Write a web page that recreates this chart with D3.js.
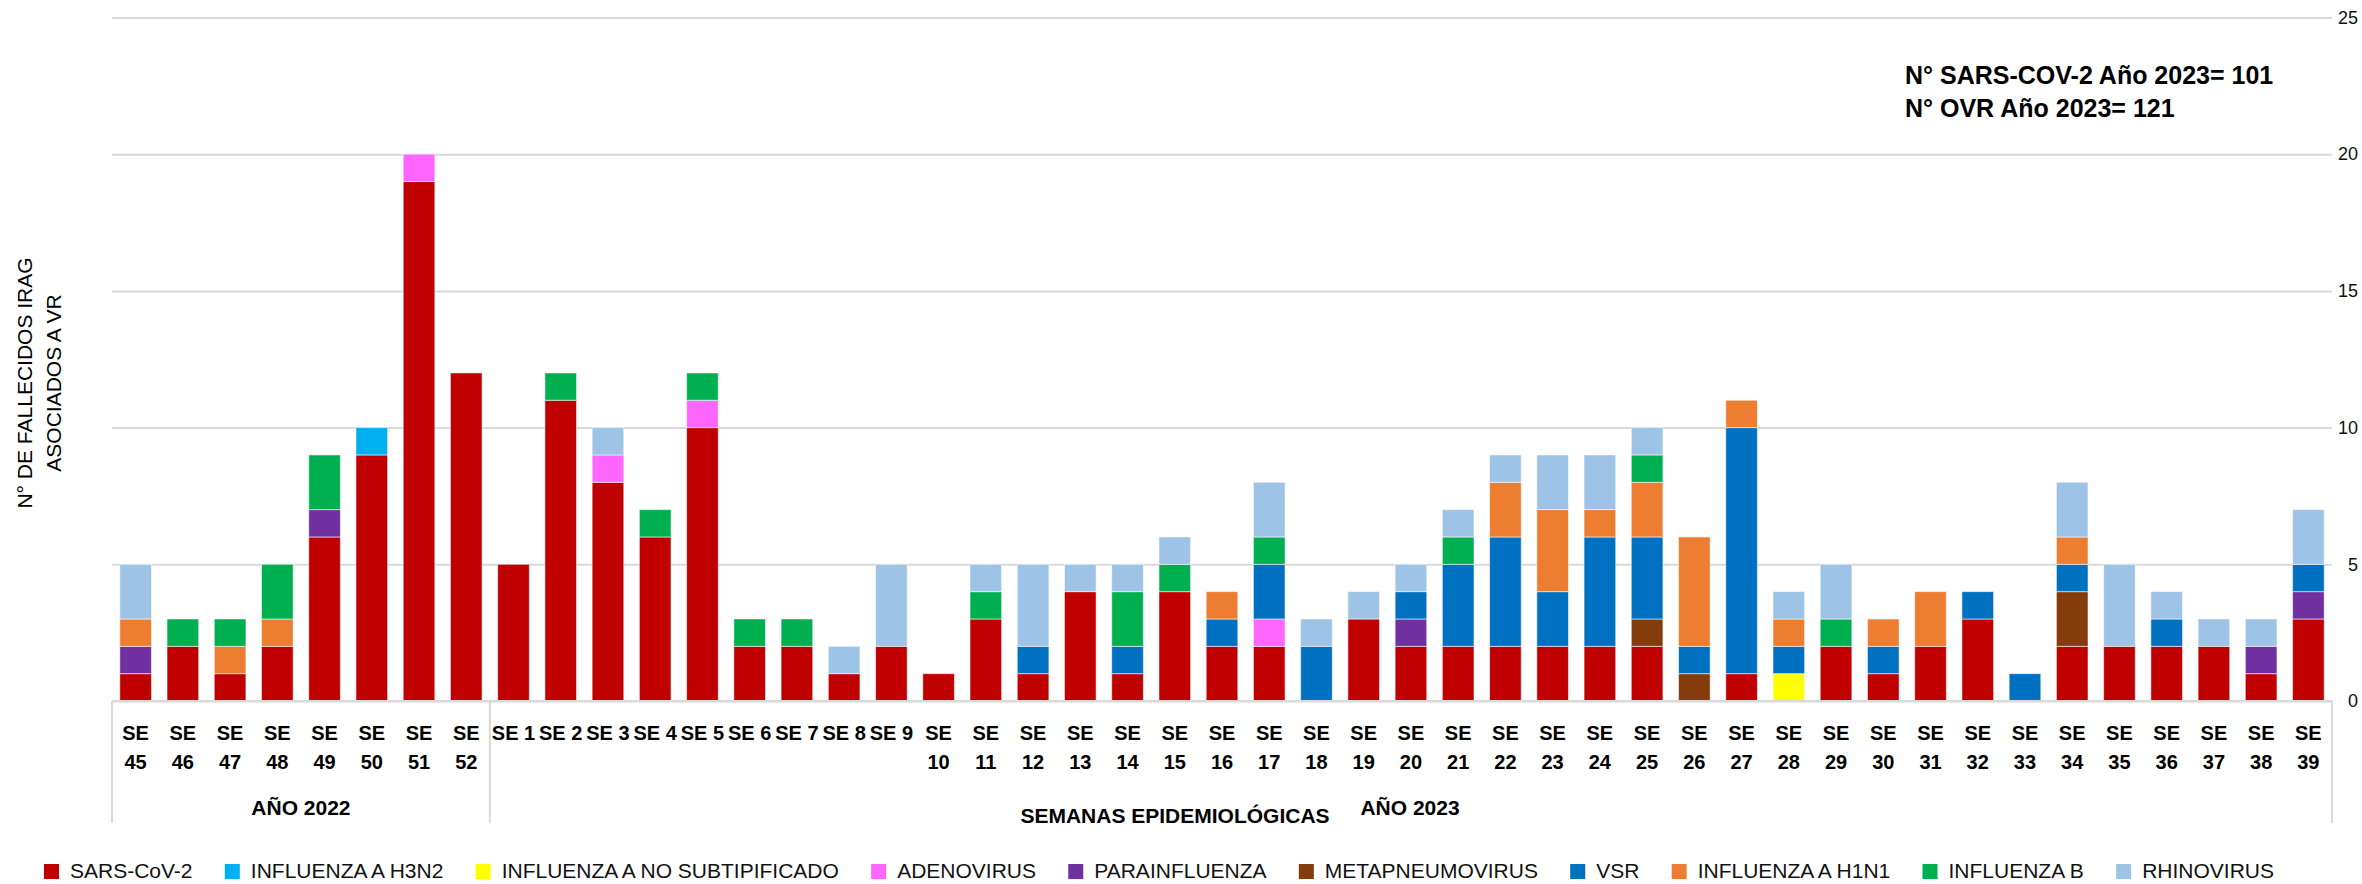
<!DOCTYPE html>
<html>
<head>
<meta charset="utf-8">
<script src="https://cdn.jsdelivr.net/npm/d3@7"></script>
<style>
    body { margin: 0; background: #fff; }
    text { font-family: "Liberation Sans", Arial, sans-serif; }
</style>
</head>
<body>
<div id="irag_plot"></div>
<script>
    // semanas epidemiologicas: SE 45-52 (2022) y SE 1-39 (2023)
    const weeks = [45, 46, 47, 48, 49, 50, 51, 52,
        1, 2, 3, 4, 5, 6, 7, 8, 9, 10, 11, 12, 13, 14, 15, 16, 17, 18, 19, 20,
        21, 22, 23, 24, 25, 26, 27, 28, 29, 30, 31, 32, 33, 34, 35, 36, 37, 38, 39];
    const years = ["2022", "2022", "2022", "2022", "2022", "2022", "2022", "2022"].concat(d3.range(39).map(() => "2023"));

    const sarsCov2 = [1, 2, 1, 2, 6, 9, 19, 12,
        5, 11, 8, 6, 10, 2, 2, 1, 2, 1,
        3, 1, 4, 1, 4, 2, 2, 0, 3, 2,
        2, 2, 2, 2, 2, 0, 1, 0, 2, 1,
        2, 3, 0, 2, 2, 2, 2, 1, 3];
    const influenzaH3N2 = [0, 0, 0, 0, 0, 1, 0, 0,
        0, 0, 0, 0, 0, 0, 0, 0, 0, 0,
        0, 0, 0, 0, 0, 0, 0, 0, 0, 0,
        0, 0, 0, 0, 0, 0, 0, 0, 0, 0,
        0, 0, 0, 0, 0, 0, 0, 0, 0];
    const influenzaNoSubt = [0, 0, 0, 0, 0, 0, 0, 0,
        0, 0, 0, 0, 0, 0, 0, 0, 0, 0,
        0, 0, 0, 0, 0, 0, 0, 0, 0, 0,
        0, 0, 0, 0, 0, 0, 0, 1, 0, 0,
        0, 0, 0, 0, 0, 0, 0, 0, 0];
    const adenovirus = [0, 0, 0, 0, 0, 0, 1, 0,
        0, 0, 1, 0, 1, 0, 0, 0, 0, 0,
        0, 0, 0, 0, 0, 0, 1, 0, 0, 0,
        0, 0, 0, 0, 0, 0, 0, 0, 0, 0,
        0, 0, 0, 0, 0, 0, 0, 0, 0];
    const parainfluenza = [1, 0, 0, 0, 1, 0, 0, 0,
        0, 0, 0, 0, 0, 0, 0, 0, 0, 0,
        0, 0, 0, 0, 0, 0, 0, 0, 0, 1,
        0, 0, 0, 0, 0, 0, 0, 0, 0, 0,
        0, 0, 0, 0, 0, 0, 0, 1, 1];
    const metapneumovirus = [0, 0, 0, 0, 0, 0, 0, 0,
        0, 0, 0, 0, 0, 0, 0, 0, 0, 0,
        0, 0, 0, 0, 0, 0, 0, 0, 0, 0,
        0, 0, 0, 0, 1, 1, 0, 0, 0, 0,
        0, 0, 0, 2, 0, 0, 0, 0, 0];
    const vsr = [0, 0, 0, 0, 0, 0, 0, 0,
        0, 0, 0, 0, 0, 0, 0, 0, 0, 0,
        0, 1, 0, 1, 0, 1, 2, 2, 0, 1,
        3, 4, 2, 4, 3, 1, 9, 1, 0, 1,
        0, 1, 1, 1, 0, 1, 0, 0, 1];
    const influenzaH1N1 = [1, 0, 1, 1, 0, 0, 0, 0,
        0, 0, 0, 0, 0, 0, 0, 0, 0, 0,
        0, 0, 0, 0, 0, 1, 0, 0, 0, 0,
        0, 2, 3, 1, 2, 4, 1, 1, 0, 1,
        2, 0, 0, 1, 0, 0, 0, 0, 0];
    const influenzaB = [0, 1, 1, 2, 2, 0, 0, 0,
        0, 1, 0, 1, 1, 1, 1, 0, 0, 0,
        1, 0, 0, 2, 1, 0, 1, 0, 0, 0,
        1, 0, 0, 0, 1, 0, 0, 0, 1, 0,
        0, 0, 0, 0, 0, 0, 0, 0, 0];
    const rhinovirus = [2, 0, 0, 0, 0, 0, 0, 0,
        0, 0, 1, 0, 0, 0, 0, 1, 3, 0,
        1, 3, 1, 1, 1, 0, 2, 1, 1, 1,
        1, 1, 2, 2, 1, 0, 0, 1, 2, 0,
        0, 0, 0, 2, 3, 1, 1, 1, 2];

    const seriesNames = ["SARS-CoV-2", "INFLUENZA A H3N2", "INFLUENZA A NO SUBTIPIFICADO", "ADENOVIRUS",
        "PARAINFLUENZA", "METAPNEUMOVIRUS", "VSR", "INFLUENZA A H1N1", "INFLUENZA B", "RHINOVIRUS"];
    const seriesValues = [sarsCov2, influenzaH3N2, influenzaNoSubt, adenovirus, parainfluenza,
        metapneumovirus, vsr, influenzaH1N1, influenzaB, rhinovirus];
    const seriesColors = ["#C00000", "#00B0F0", "#FFFF00", "#FF66FF", "#7030A0",
        "#843C0C", "#0070C0", "#ED7D31", "#00B050", "#9DC3E6"];
    const yTicks = [0, 5, 10, 15, 20, 25];
    const notes = ["N° SARS-COV-2 Año 2023= 101", "N° OVR Año 2023= 121"];

    function plot_irag() {
        const W = 2362, H = 884;
        const left = 112, right = 2332, top = 17.5, bottom = 701;

        const svg = d3.select("#irag_plot")
            .append("svg")
            .attr("width", W)
            .attr("height", H);

        const categories = weeks.map((w, i) => years[i] + "-" + w);
        const table = categories.map((c, i) => {
            let row = {cat: c};
            seriesNames.forEach((name, k) => row[name] = seriesValues[k][i]);
            return row;
        });
        const stacked = d3.stack().keys(seriesNames)(table);

        const x = d3.scaleBand()
            .domain(categories)
            .range([left, right])
            .paddingInner(0.33)
            .paddingOuter(0.165);
        const y = d3.scaleLinear()
            .domain([0, 25])
            .range([bottom, top]);

        // grid + right labels
        const yAxis = svg.append("g")
            .attr("transform", "translate(" + left + ",0)")
            .call(d3.axisRight(y).tickValues(yTicks).tickSize(right - left).tickPadding(0));
        yAxis.select(".domain").remove();
        yAxis.selectAll(".tick line")
            .attr("stroke", "#D9D9D9")
            .attr("stroke-width", 2);
        yAxis.selectAll(".tick text")
            .attr("x", 2358 - left)
            .attr("text-anchor", "end")
            .style("font-size", "18px")
            .style("font-family", "'Liberation Sans', Arial, sans-serif")
            .attr("fill", "#111");

        // stacked bars
        svg.selectAll("mySeries")
            .data(stacked)
            .join("g")
            .attr("fill", (d, i) => seriesColors[i])
            .selectAll("rect")
            .data(d => d.filter(s => s[1] > s[0]))
            .join("rect")
            .attr("x", d => x(d.data.cat))
            .attr("width", x.bandwidth())
            .attr("y", d => y(d[1]))
            .attr("height", d => y(d[0]) - y(d[1]))
            .attr("stroke", "#fff")
            .attr("stroke-opacity", 0.55)
            .attr("stroke-width", 1);

        // category axis
        svg.append("line")
            .attr("x1", left).attr("x2", right)
            .attr("y1", bottom).attr("y2", bottom)
            .attr("stroke", "#D9D9D9").attr("stroke-width", 2);
        const split = x(categories[8]) - x.step() * x.paddingInner() / 2;
        [left, split, right].forEach(px => {
            svg.append("line")
                .attr("x1", px).attr("x2", px)
                .attr("y1", bottom).attr("y2", 823)
                .attr("stroke", "#D9D9D9").attr("stroke-width", 2);
        });

        const tickLabels = svg.append("g")
            .selectAll("text")
            .data(categories)
            .join("text")
            .attr("x", d => x(d) + x.bandwidth() / 2)
            .attr("text-anchor", "middle")
            .style("font-size", "20px")
            .style("font-weight", "bold")
            .attr("fill", "#000");
        tickLabels.each(function (d, i) {
            const w = weeks[i];
            const t = d3.select(this);
            if (w < 10) {
                t.append("tspan").attr("y", 740).attr("x", x(d) + x.bandwidth() / 2).text("SE " + w);
            } else {
                t.append("tspan").attr("y", 740).attr("x", x(d) + x.bandwidth() / 2).text("SE");
                t.append("tspan").attr("y", 769).attr("x", x(d) + x.bandwidth() / 2).text(w);
            }
        });

        svg.append("text")
            .attr("x", (left + split) / 2).attr("y", 815)
            .attr("text-anchor", "middle")
            .style("font-size", "21px").style("font-weight", "bold")
            .text("AÑO 2022");
        svg.append("text")
            .attr("x", 1410).attr("y", 815)
            .attr("text-anchor", "middle")
            .style("font-size", "21px").style("font-weight", "bold")
            .text("AÑO 2023");
        svg.append("text")
            .attr("x", 1175).attr("y", 823)
            .attr("text-anchor", "middle")
            .style("font-size", "21px").style("font-weight", "bold")
            .text("SEMANAS EPIDEMIOLÓGICAS");

        // y title
        const title = svg.append("text")
            .attr("transform", "translate(0,383) rotate(-90)")
            .attr("text-anchor", "middle")
            .style("font-size", "21px")
            .attr("fill", "#000");
        title.append("tspan").attr("x", 0).attr("y", 32).text("N° DE FALLECIDOS IRAG");
        title.append("tspan").attr("x", 0).attr("y", 61).text("ASOCIADOS A VR");

        // annotation
        svg.selectAll("myNotes")
            .data(notes)
            .join("text")
            .attr("x", 1905)
            .attr("y", (d, i) => 84 + i * 33)
            .style("font-size", "25px")
            .style("font-weight", "bold")
            .text(d => d);

        // legend
        const legend = svg.append("g");
        const items = legend.selectAll("g")
            .data(seriesNames)
            .join("g");
        items.append("rect")
            .attr("width", 15).attr("height", 15)
            .attr("y", 864)
            .attr("fill", (d, i) => seriesColors[i]);
        items.append("text")
            .attr("x", 26).attr("y", 878)
            .style("font-size", "21px")
            .attr("fill", "#111")
            .text(d => d);
        const lens = [];
        items.select("text").each(function () { lens.push(this.getComputedTextLength()); });
        const used = d3.sum(lens) + lens.length * 26;
        const gap = (2274 - 44 - used) / (lens.length - 1);
        let cx = 44;
        items.attr("transform", (d, i) => {
            const t = "translate(" + cx + ",0)";
            cx += 26 + lens[i] + gap;
            return t;
        });
    }

    plot_irag();
</script>
</body>
</html>
